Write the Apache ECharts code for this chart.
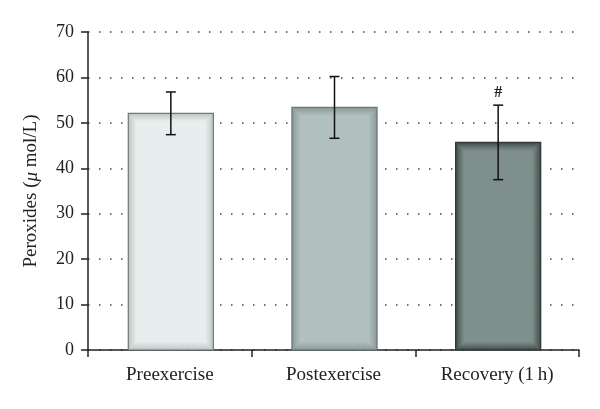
<!DOCTYPE html>
<html><head><meta charset="utf-8">
<script src="https://cdn.jsdelivr.net/npm/echarts@6/dist/echarts.min.js"></script>
<style>html,body{margin:0;padding:0;background:#fff}#c{width:600px;height:409px}</style>
</head><body><div id="c"></div>
<script>
var categories = ['Preexercise', 'Postexercise', 'Recovery (1\u2009h)'];
var means = [52.1, 53.4, 45.7];
var errors = [4.7, 6.8, 8.2];
var marks = ['', '', '#'];
var yTicks = [0, 10, 20, 30, 40, 50, 60, 70];

var barMain = ['#e8eeed', '#b1bfbd', '#7e8f8c'];
var barEdge = ['#b9c5c3', '#889896', '#3f4b49'];
var barBorder = ['#6f7a78', '#6a7775', '#2e3836'];

var font = '"Liberation Serif","DejaVu Serif",serif';
var chart = echarts.init(document.getElementById('c'));

function lerpColor(a, b, t) {
  var pa = parseInt(a.slice(1), 16), pb = parseInt(b.slice(1), 16);
  var r = Math.round(((pa >> 16) & 255) * (1 - t) + ((pb >> 16) & 255) * t);
  var g = Math.round(((pa >> 8) & 255) * (1 - t) + ((pb >> 8) & 255) * t);
  var bl = Math.round((pa & 255) * (1 - t) + (pb & 255) * t);
  return 'rgb(' + r + ',' + g + ',' + bl + ')';
}

chart.setOption({
  animation: false,
  grid: {left: 88, right: 21, top: 32, bottom: 59},
  xAxis: {
    type: 'category', data: categories, boundaryGap: true,
    axisLine: {lineStyle: {color: '#222', width: 1.5}},
    axisTick: {show: true, length: 7, lineStyle: {color: '#222', width: 1.5}},
    axisLabel: {color: '#222', fontFamily: font, fontSize: 19, margin: 16}
  },
  yAxis: {
    type: 'value', min: 0, max: 70, interval: 10,
    name: '{n|Peroxides (}{i|\u03bc}{n| mol/L)}',
    nameLocation: 'middle', nameGap: 47, nameRotate: 90,
    nameTextStyle: {rich: {
      n: {fontFamily: font, fontSize: 19, color: '#222'},
      i: {fontFamily: font, fontSize: 19, color: '#222', fontStyle: 'italic'}
    }},
    axisLine: {show: true, lineStyle: {color: '#222', width: 1.5}},
    axisTick: {show: true, length: 7, lineStyle: {color: '#222', width: 1.5}},
    axisLabel: {color: '#222', fontFamily: font, fontSize: 18, margin: 14,
      formatter: function (v) { return yTicks.indexOf(v) >= 0 ? String(v) : ''; }},
    splitLine: {show: true, lineStyle: {color: '#444', width: 1.5, type: [1.5, 9.5]}}
  },
  series: [
    {
      type: 'custom',
      data: means.map(function (v, i) { return [i, v]; }),
      renderItem: function (params, api) {
        var i = api.value(0);
        var top = api.coord([i, api.value(1)]);
        var base = api.coord([i, 0]);
        var w = api.size([1, 0])[0] * 0.52;
        var x = top[0] - w / 2 + 1, y = top[1], h = base[1] - top[1];
        var steps = 8;
        var children = [];
        for (var k = 0; k <= steps; k++) {
          var t = Math.pow(k / steps, 0.8);
          children.push({type: 'rect',
            shape: {x: x + k, y: y + k, width: w - 2 * k, height: h - 2 * k},
            style: {fill: lerpColor(barEdge[i], barMain[i], t)}});
        }
        children.push({type: 'rect', shape: {x: x, y: y, width: w, height: h},
          style: {fill: 'none', stroke: barBorder[i], lineWidth: 1.2}});
        return {type: 'group', children: children};
      },
      z: 2
    },
    {
      type: 'custom',
      data: means.map(function (v, i) { return [i, v - errors[i], v + errors[i]]; }),
      renderItem: function (params, api) {
        var i = api.value(0);
        var lo = api.coord([i, api.value(1)]);
        var hi = api.coord([i, api.value(2)]);
        var cx = lo[0] + 1, cw = 5;
        var st = {stroke: '#111', lineWidth: 1.5};
        var children = [
          {type: 'line', shape: {x1: cx, y1: lo[1], x2: cx, y2: hi[1]}, style: st},
          {type: 'line', shape: {x1: cx - cw, y1: lo[1], x2: cx + cw, y2: lo[1]}, style: st},
          {type: 'line', shape: {x1: cx - cw, y1: hi[1], x2: cx + cw, y2: hi[1]}, style: st}
        ];
        if (marks[i]) {
          children.push({type: 'text', style: {text: marks[i], x: cx, y: hi[1] - 4,
            align: 'center', verticalAlign: 'bottom', fill: '#222',
            fontSize: 16, fontFamily: font, fontWeight: 'bold'}});
        }
        return {type: 'group', children: children};
      },
      z: 3
    }
  ]
});
</script></body></html>
